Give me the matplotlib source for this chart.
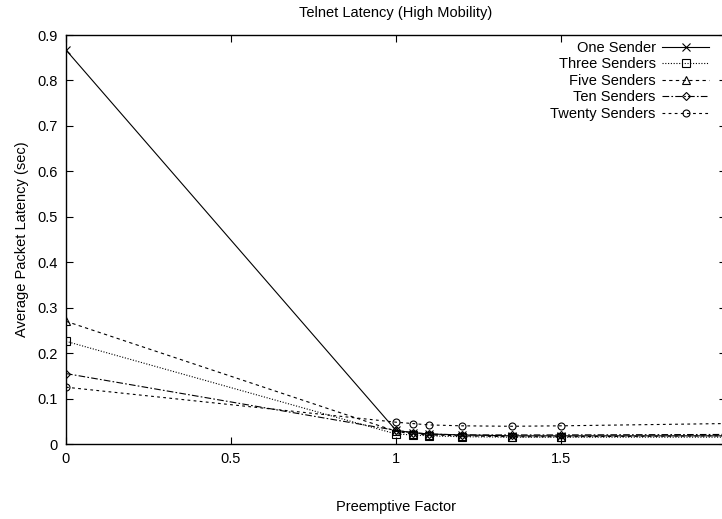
import matplotlib
matplotlib.use("Agg")
import matplotlib.pyplot as plt

plt.rcParams['font.family'] = ['Liberation Sans', 'DejaVu Sans']

x = [0, 1.0, 1.05, 1.1, 1.2, 1.35, 1.5, 2.0]
one_sender = [0.867, 0.030, 0.025, 0.022, 0.020, 0.018, 0.018, 0.018]
three_senders = [0.226, 0.022, 0.020, 0.018, 0.016, 0.015, 0.015, 0.015]
five_senders = [0.270, 0.028, 0.022, 0.020, 0.018, 0.016, 0.016, 0.018]
ten_senders = [0.155, 0.030, 0.025, 0.022, 0.020, 0.020, 0.020, 0.021]
twenty_senders = [0.125, 0.048, 0.045, 0.042, 0.040, 0.039, 0.040, 0.045]
labels = ["One Sender", "Three Senders", "Five Senders", "Ten Senders", "Twenty Senders"]
xticks = [0, 0.5, 1, 1.5, 2]
yticks = [0, 0.1, 0.2, 0.3, 0.4, 0.5, 0.6, 0.7, 0.8, 0.9]

FS = 10.5
fig = plt.figure(figsize=(7.22, 5.19), dpi=100)
ax = fig.add_axes([66/722, 1-444/519, (726-66)/722, (444-35)/519])

series = [one_sender, three_senders, five_senders, ten_senders, twenty_senders]
markers = ['x', 's', '^', 'D', 'o']
msizes = [5.5, 5.5, 5.5, 4.5, 5]
styles = ['-', (0, (1, 1.5)), (0, (3, 3)), (0, (6, 2, 1.5, 2)), (0, (2.5, 3))]
for s, lab, m, ms, ls in zip(series, labels, markers, msizes, styles):
    ax.plot(x, s, color='black', linestyle=ls, linewidth=0.8, marker=m,
            markersize=ms, markerfacecolor='none', markeredgewidth=0.8, label=lab)

ax.set_xlim(0, 2)
ax.set_ylim(0, 0.9)
ax.set_xticks(xticks)
ax.set_xticklabels(['0', '0.5', '1', '1.5', '2'])
ax.set_yticks(yticks)
ax.set_yticklabels(['0', '0.1', '0.2', '0.3', '0.4', '0.5', '0.6', '0.7', '0.8', '0.9'])
ax.tick_params(direction='in', top=True, right=True, length=5, width=0.8, labelsize=FS, pad=6)
for sp in ax.spines.values():
    sp.set_linewidth(1.0)

ax.set_title("Telnet Latency (High Mobility)", fontsize=FS, pad=13)
ax.set_xlabel("Preemptive Factor", fontsize=FS, labelpad=24)
ax.set_ylabel("Average Packet Latency (sec)", fontsize=FS, labelpad=6)

leg = ax.legend(loc='upper right', bbox_to_anchor=(709/722, (519-41)/519),
                bbox_transform=fig.transFigure, frameon=False,
                markerfirst=False, fontsize=FS, handlelength=3.2, labelspacing=0.17,
                borderaxespad=0, borderpad=0, handletextpad=0.45)

fig.savefig("out.png", dpi=100)
